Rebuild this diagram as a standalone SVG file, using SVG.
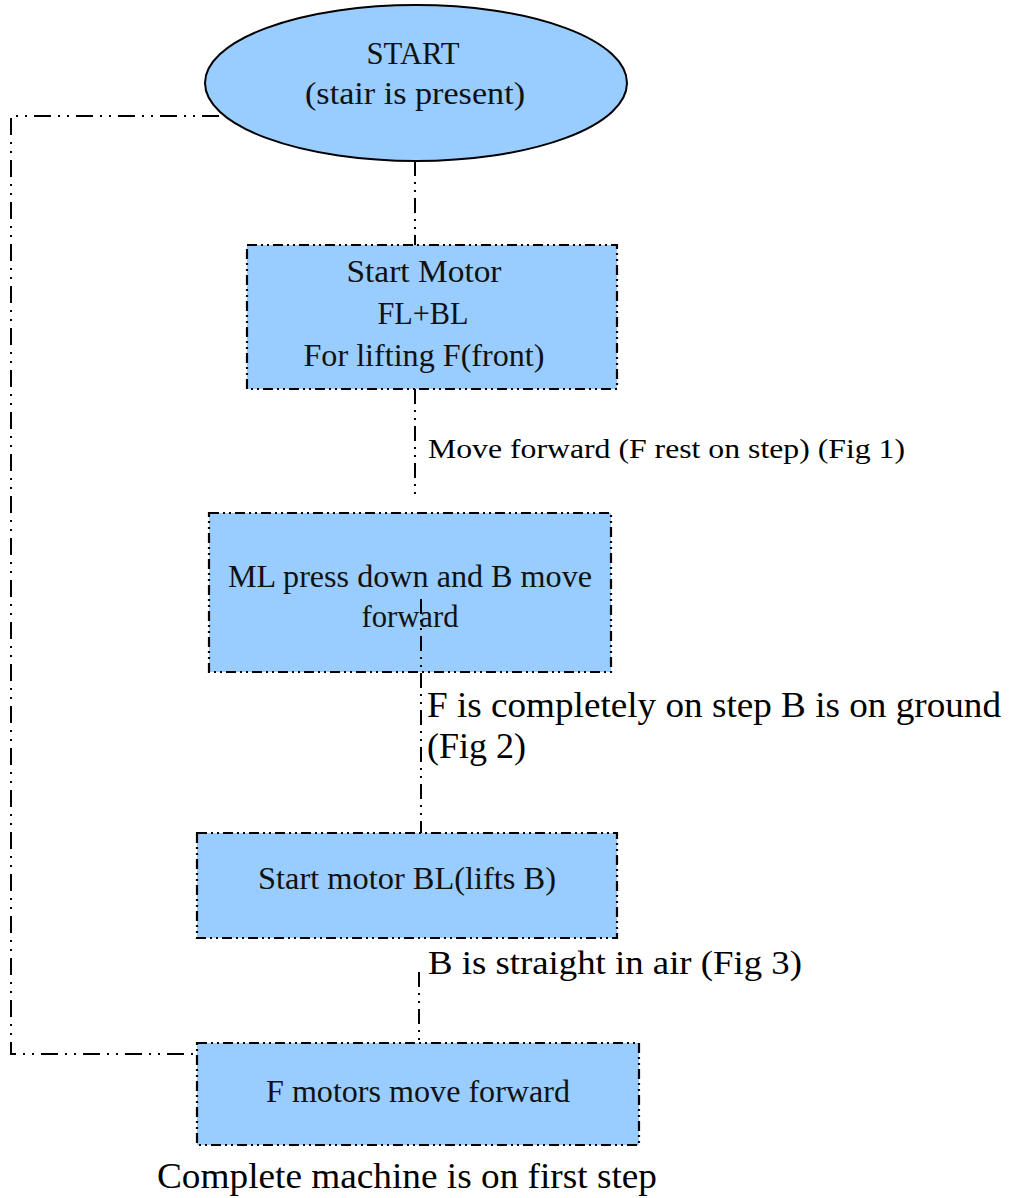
<svg xmlns="http://www.w3.org/2000/svg" width="1015" height="1198" viewBox="0 0 1015 1198">
<style>
.node{fill:#99CCFF;stroke:#000;stroke-width:2.2;stroke-dasharray:10 4 2 4 2 4}
.ell{fill:#99CCFF;stroke:#000;stroke-width:2}
.nt{font-family:'Liberation Serif','Times New Roman',serif;font-size:32px;fill:#111;text-anchor:middle}
.lb{font-family:'Liberation Serif','Times New Roman',serif;fill:#000}
.conn{fill:none;stroke:#000;stroke-width:2;stroke-dasharray:15 6 2 6 2 6}
.loop{fill:none;stroke:#000;stroke-width:2;stroke-dasharray:17 7 2 7 2 7}
</style>
<rect width="1015" height="1198" fill="#fff"/>
<g id="start">
<ellipse class="ell" cx="416" cy="83" rx="211" ry="78"/>
<text class="nt" x="413" y="64" textLength="93" lengthAdjust="spacingAndGlyphs">START</text>
<text class="nt" x="415" y="104" textLength="220" lengthAdjust="spacingAndGlyphs">(stair is present)</text>
</g>
<g id="box1">
<rect class="node" x="247" y="245" width="370" height="144"/>
<text class="nt" x="424" y="282" textLength="155" lengthAdjust="spacingAndGlyphs">Start Motor</text>
<text class="nt" x="423" y="324" textLength="91" lengthAdjust="spacingAndGlyphs">FL+BL</text>
<text class="nt" x="424" y="366" textLength="241" lengthAdjust="spacingAndGlyphs">For lifting F(front)</text>
</g>
<g id="box2">
<rect class="node" x="209" y="513" width="402" height="159"/>
<text class="nt" x="410" y="587" textLength="364" lengthAdjust="spacingAndGlyphs">ML press down and B move</text>
<text class="nt" x="410" y="627" textLength="97" lengthAdjust="spacingAndGlyphs">forward</text>
</g>
<g id="box3">
<rect class="node" x="197" y="833" width="420" height="105"/>
<text class="nt" x="407" y="889" textLength="298" lengthAdjust="spacingAndGlyphs">Start motor BL(lifts B)</text>
</g>
<g id="box4">
<rect class="node" x="197" y="1043" width="442" height="102"/>
<text class="nt" x="418" y="1102" textLength="304" lengthAdjust="spacingAndGlyphs">F motors move forward</text>
</g>
<g id="connectors">
<path class="loop" d="M219 116 H11 V1054 H197"/>
<path class="conn" d="M415 161 V245"/>
<path class="conn" d="M415 389 V497"/>
<path class="conn" d="M421 599 V833"/>
<path class="conn" d="M419 972 V1043"/>
</g>
<g id="labels">
<text class="lb" x="428" y="458" font-size="27" textLength="477" lengthAdjust="spacingAndGlyphs">Move forward (F rest on step) (Fig 1)</text>
<text class="lb" x="427" y="717" font-size="36" textLength="574" lengthAdjust="spacingAndGlyphs">F is completely on step B is on ground</text>
<text class="lb" x="427" y="758" font-size="36">(Fig 2)</text>
<text class="lb" x="428" y="974" font-size="34" textLength="374" lengthAdjust="spacingAndGlyphs">B is straight in air (Fig 3)</text>
<text class="lb" x="157" y="1188" font-size="36" textLength="500" lengthAdjust="spacingAndGlyphs">Complete machine is on first step</text>
</g>
</svg>
